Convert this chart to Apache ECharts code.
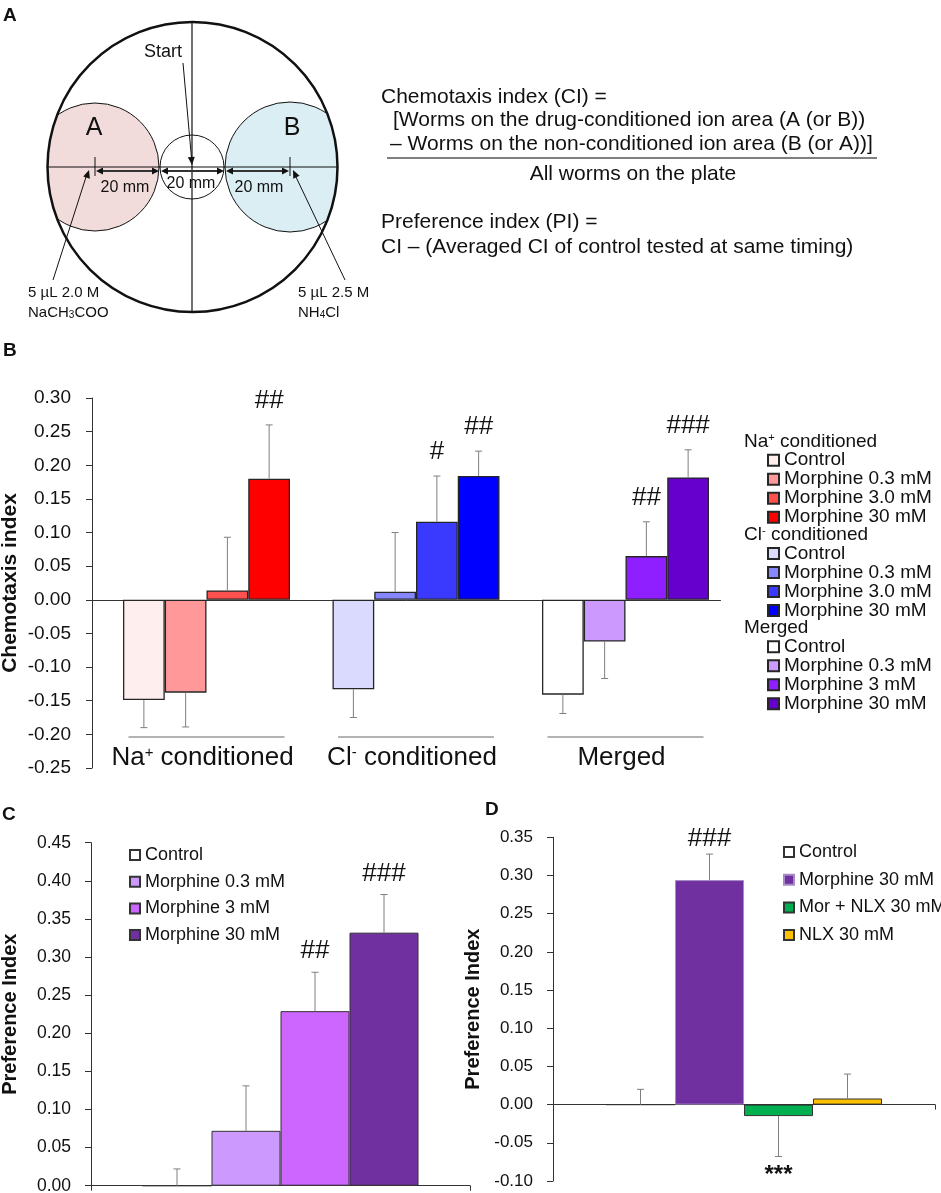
<!DOCTYPE html>
<html lang="en">
<head>
<meta charset="UTF-8">
<title>Chemotaxis / preference index</title>
<script src="https://cdn.jsdelivr.net/npm/echarts@6.0.0/dist/echarts.min.js"></script>
<style>
  html, body { margin: 0; padding: 0; background: #fff; }
  #chart { width: 941px; height: 1193px; }
</style>
</head>
<body>
<div id="chart"></div>
<script>
var FONT = '"Liberation Sans", Arial, Helvetica, sans-serif';

// ---- panel B : chemotaxis index ----
var bGroups = ['Na+ conditioned', 'Cl- conditioned', 'Merged'];
var bGroupRich = ['Na{s|+} conditioned', 'Cl{s|-} conditioned', 'Merged'];
var bHeaders = ['Na{s|+} conditioned', 'Cl{s|-} conditioned', 'Merged'];
var naLabels = ['Control', 'Morphine 0.3 mM', 'Morphine 3.0 mM', 'Morphine 30 mM'];
var clLabels = ['Control', 'Morphine 0.3 mM', 'Morphine 3.0 mM', 'Morphine 30 mM'];
var mgLabels = ['Control', 'Morphine 0.3 mM', 'Morphine 3 mM', 'Morphine 30 mM'];
var naMean = [-0.149, -0.138, 0.014, 0.180];
var naErr = [0.041, 0.051, 0.079, 0.080];
var naSig = ['', '', '', '##'];
var clMean = [-0.133, 0.012, 0.116, 0.184];
var clErr = [0.042, 0.088, 0.068, 0.037];
var clSig = ['', '', '#', '##'];
var mgMean = [-0.141, -0.062, 0.065, 0.182];
var mgErr = [0.028, 0.055, 0.051, 0.041];
var mgSig = ['', '', '##', '###'];
var naColors = ['#ffeeee', '#ff9999', '#ff5050', '#ff0000'];
var clColors = ['#dadaff', '#8686ff', '#3a3aff', '#0000ff'];
var mgColors = ['#ffffff', '#cc99ff', '#8f1fff', '#6600cc'];
var bAxis = [-0.25, 0.30, 0.05];

// ---- panel C : preference index ----
var cLabels = ['Control', 'Morphine 0.3 mM', 'Morphine 3 mM', 'Morphine 30 mM'];
var cMean = [0, 0.072, 0.229, 0.332];
var cErr = [0.022, 0.059, 0.051, 0.050];
var cSig = ['', '', '##', '###'];
var cColors = ['#ffffff', '#cc99ff', '#cc66ff', '#7030a0'];
var cAxis = [0, 0.45, 0.05];

// ---- panel D : preference index with naloxone ----
var dLabels = ['Control', 'Morphine 30 mM', 'Mor + NLX 30 mM', 'NLX 30 mM'];
var dMean = [0, 0.294, -0.015, 0.008];
var dErr = [0.020, 0.034, 0.053, 0.032];
var dSig = ['', '###', '***', ''];
var dColors = ['#ffffff', '#7030a0', '#00b050', '#ffc000'];
var dAxis = [-0.10, 0.35, 0.05];

var B_BAR = 41.75, B_SPACER = 19.5, CD_BAR = 69;

var chart = echarts.init(document.getElementById('chart'), null, { renderer: 'canvas' });

function fmt(v) {
	if (Math.abs(v) < 1e-9) return '0.00';
	return v.toFixed(2);
}

function yAxisOf(grid, range, fontSize, margin, nameGap, nameSize) {
	return {
		gridIndex: grid, type: 'value', min: range[0], max: range[1], interval: range[2],
		axisLine: { show: true, lineStyle: { color: '#333', width: 1 } },
		axisTick: { show: true, length: 6, lineStyle: { color: '#333' } },
		splitLine: { show: false },
		axisLabel: { formatter: fmt, fontSize: fontSize, margin: margin, color: '#111', fontFamily: FONT },
		name: grid === 0 ? 'Chemotaxis index' : 'Preference Index',
		nameLocation: 'middle', nameGap: nameGap, nameMoveOverlap: false,
		nameTextStyle: { fontSize: nameSize, fontWeight: 'bold', color: '#111', fontFamily: FONT }
	};
}

// error bars (and significance marks), positioned in the bar slots of a category
function errorSeries(grid, items, barW, spacerW, slots, upGap, downGap) {
	return {
		type: 'custom', xAxisIndex: grid, yAxisIndex: grid, z: 5, silent: true,
		data: items.map(function (it) { return [it.cat, it.mean, it.err]; }),
		renderItem: function (params, api) {
			var it = items[params.dataIndex];
			var half = (spacerW + slots * barW) / 2;
			var base = api.coord([it.cat, it.mean]);
			var x = base[0] - half + spacerW + (it.slot + 0.5) * barW;
			var dir = it.mean >= 0 ? 1 : -1;
			var end = api.coord([it.cat, it.mean + dir * it.err]);
			var ls = { stroke: '#7f7f7f', lineWidth: 1 };
			var kids = [
				{ type: 'line', shape: { x1: x, y1: base[1], x2: x, y2: end[1] }, style: ls },
				{ type: 'line', shape: { x1: x - 3.5, y1: end[1], x2: x + 3.5, y2: end[1] }, style: ls }
			];
			if (it.sig) {
				var star = it.sig.charAt(0) === '*';
				kids.push({
					type: 'text',
					style: {
						text: it.sig, x: x, y: dir > 0 ? end[1] - upGap : end[1] + downGap,
						align: 'center', verticalAlign: 'middle',
						textAlign: 'center', textVerticalAlign: 'middle',
						fontFamily: FONT, fontSize: star ? 24 : 26, fontWeight: star ? 'bold' : 'normal',
						fill: '#111'
					}
				});
			}
			return { type: 'group', children: kids };
		}
	};
}

var series = [];
var bMeans = [naMean, clMean, mgMean], bErrs = [naErr, clErr, mgErr], bSigs = [naSig, clSig, mgSig];
var bLabels = [naLabels, clLabels, mgLabels], bColors = [naColors, clColors, mgColors];

// empty slot on the left of every group
series.push({
	name: 'spacer', type: 'bar', xAxisIndex: 0, yAxisIndex: 0,
	barWidth: B_SPACER, barGap: '0%', silent: true, data: [null, null, null]
});
var bLegendNames = [[], [], []];
var bErrItems = [];
bGroups.forEach(function (gName, g) {
	for (var d = 0; d < 4; d++) {
		var nm = 'B' + g + '|' + bLabels[g][d];
		bLegendNames[g].push(nm);
		series.push({
			name: nm, type: 'bar', xAxisIndex: 0, yAxisIndex: 0, stack: 'dose' + d,
			barWidth: B_BAR, barGap: '0%',
			itemStyle: { color: bColors[g][d], borderColor: '#262626', borderWidth: 1.3 },
			data: bGroups.map(function (_, k) { return k === g ? bMeans[g][d] : '-'; })
		});
		bErrItems.push({ cat: g, mean: bMeans[g][d], err: bErrs[g][d], slot: d, sig: bSigs[g][d] });
	}
});
series.push(errorSeries(0, bErrItems, B_BAR, B_SPACER, 4, 24, 19));

// group underline + label under each group
series.push({
	type: 'custom', xAxisIndex: 0, yAxisIndex: 0, silent: true, z: 4,
	data: bGroups.map(function (_, k) { return [k, bAxis[0]]; }),
	renderItem: function (params, api) {
		var p = api.coord([api.value(0), api.value(1)]);
		var cx = p[0] + B_SPACER / 2;
		return {
			type: 'group', children: [
				{ type: 'line', shape: { x1: cx - 78, y1: p[1] - 31, x2: cx + 78, y2: p[1] - 31 },
					style: { stroke: '#9a9a9a', lineWidth: 1.5 } },
				{ type: 'text', style: {
					text: bGroupRich[params.dataIndex], x: cx - 4, y: p[1] - 10,
					align: 'center', verticalAlign: 'middle', textAlign: 'center', textVerticalAlign: 'middle',
					fontFamily: FONT, fontSize: 26, fill: '#111',
					rich: { s: { fontFamily: FONT, fontSize: 15, verticalAlign: 'top', fill: '#111' } }
				} }
			]
		};
	}
});

// panel C
var cLegendNames = [], cErrItems = [];
cLabels.forEach(function (lab, d) {
	var nm = 'C|' + lab;
	cLegendNames.push(nm);
	series.push({
		name: nm, type: 'bar', xAxisIndex: 1, yAxisIndex: 1, barWidth: CD_BAR, barGap: '0%',
		itemStyle: { color: cColors[d], borderColor: '#333', borderWidth: 1 },
		data: [cMean[d]]
	});
	cErrItems.push({ cat: 0, mean: cMean[d], err: cErr[d], slot: d, sig: cSig[d] });
});
series.push(errorSeries(1, cErrItems, CD_BAR, 0, 4, 21, 19));

// panel D
var dLegendNames = [], dErrItems = [];
dLabels.forEach(function (lab, d) {
	var nm = 'D|' + lab;
	dLegendNames.push(nm);
	series.push({
		name: nm, type: 'bar', xAxisIndex: 2, yAxisIndex: 2, barWidth: CD_BAR, barGap: '0%',
		itemStyle: { color: dColors[d], borderColor: d === 1 ? '#a58cc4' : '#333', borderWidth: 1 },
		data: [dMean[d]]
	});
	dErrItems.push({ cat: 0, mean: dMean[d], err: dErr[d], slot: d, sig: dSig[d] });
});
series.push(errorSeries(2, dErrItems, CD_BAR, 0, 4, 15, 19));

function legendOf(names, left, top, fontSize, lineH, gap, icon) {
	return {
		orient: 'vertical', left: left, top: top, padding: 0, itemGap: gap,
		itemWidth: icon, itemHeight: icon, icon: 'rect', selectedMode: false, data: names,
		formatter: function (n) { return n.split('|')[1]; },
		textStyle: { fontFamily: FONT, fontSize: fontSize, lineHeight: lineH, color: '#111' }
	};
}

// ---- panel A drawing + captions (graphic) ----
function arrowHead(tx, ty, ang, len, hw) {
	var bx = tx - Math.cos(ang) * len, by = ty - Math.sin(ang) * len;
	var px = -Math.sin(ang) * hw, py = Math.cos(ang) * hw;
	return { type: 'polygon', shape: { points: [[tx, ty], [bx + px, by + py], [bx - px, by - py]] }, style: { fill: '#111' } };
}
function seg(x1, y1, x2, y2, w, c) {
	return { type: 'line', shape: { x1: x1, y1: y1, x2: x2, y2: y2 }, style: { stroke: c || '#111', lineWidth: w || 1 } };
}
function txt(s, x, y, size, opts) {
	opts = opts || {};
	return {
		type: 'text', x: x, y: y,
		style: {
			text: s, fontFamily: FONT, fontSize: size, fontWeight: opts.bold ? 'bold' : 'normal',
			fill: '#111', align: opts.align || 'left', verticalAlign: opts.va || 'middle',
			textAlign: opts.align || 'left', textVerticalAlign: opts.va || 'middle', rich: opts.rich
		}
	};
}

var cx0 = 192.5, cy0 = 167;
var gfx = [
	{ type: 'circle', shape: { cx: 95, cy: cy0, r: 64 }, style: { fill: '#f2dcdb', stroke: '#111', lineWidth: 1 } },
	{ type: 'circle', shape: { cx: 290, cy: cy0, r: 65 }, style: { fill: '#dbeef4', stroke: '#111', lineWidth: 1 } },
	{ type: 'circle', shape: { cx: cx0, cy: cy0, r: 160 }, style: { fill: 'none', stroke: '#fff', lineWidth: 30 } },
	{ type: 'circle', shape: { cx: cx0, cy: cy0, r: 145 }, style: { fill: 'none', stroke: '#111', lineWidth: 2.5 } },
	seg(192, 22, 192, 312, 1.2),
	seg(48, cy0, 337, cy0, 1.2),
	{ type: 'circle', shape: { cx: 192, cy: cy0, r: 32 }, style: { fill: 'none', stroke: '#111', lineWidth: 1 } },
	seg(95, 157, 95, 176, 1),
	seg(290, 157, 290, 176, 1),
	seg(99, 171, 155, 171, 2, '#333'),
	seg(164, 171, 220, 171, 2, '#333'),
	seg(229, 171, 285, 171, 2, '#333'),
	arrowHead(96, 171, Math.PI, 7, 3.5), arrowHead(159, 171, 0, 7, 3.5),
	arrowHead(161, 171, Math.PI, 7, 3.5), arrowHead(224, 171, 0, 7, 3.5),
	arrowHead(226, 171, Math.PI, 7, 3.5), arrowHead(289, 171, 0, 7, 3.5),
	txt('A', 94, 128, 25, { align: 'center' }),
	txt('B', 292, 128, 25, { align: 'center' }),
	txt('Start', 163, 52, 18, { align: 'center' }),
	seg(183, 63, 191.5, 158, 1),
	arrowHead(192, 165, Math.atan2(102, 9), 8, 3.5),
	txt('20 mm', 125, 188, 16, { align: 'center' }),
	txt('20 mm', 191, 184, 16, { align: 'center' }),
	txt('20 mm', 259, 188, 16, { align: 'center' }),
	seg(53, 280, 86, 177, 1),
	arrowHead(89, 170, Math.atan2(-103, 33), 8, 3.5),
	seg(345, 280, 296, 177, 1),
	arrowHead(293, 170, Math.atan2(-103, -49), 8, 3.5),
	txt('5 µL 2.0 M', 28, 293, 15),
	txt('NaCH{b|3}COO', 28, 313, 15, { rich: { b: { fontFamily: FONT, fontSize: 10, verticalAlign: 'bottom', fill: '#111' } } }),
	txt('5 µL 2.5 M', 298, 293, 15),
	txt('NH{b|4}Cl', 298, 313, 15, { rich: { b: { fontFamily: FONT, fontSize: 10, verticalAlign: 'bottom', fill: '#111' } } }),

	txt('Chemotaxis index (CI) =', 381, 97, 21),
	txt('[Worms on the drug-conditioned ion area (A (or B))', 393, 120, 21),
	txt('– Worms on the non-conditioned ion area (B (or A))]', 390, 144, 21),
	seg(387, 158, 877, 158, 1.5, '#555'),
	txt('All worms on the plate', 633, 174, 21, { align: 'center' }),
	txt('Preference index (PI) =', 381, 222, 21),
	txt('CI – (Averaged CI of control tested at same timing)', 381, 247, 21),

	txt('A', 3, 16, 19, { bold: true }),
	txt('B', 3, 351, 19, { bold: true }),
	txt('C', 2, 815, 19, { bold: true }),
	txt('D', 485, 810, 19, { bold: true })
];
var supRich = { s: { fontFamily: FONT, fontSize: 11, verticalAlign: 'top', fill: '#111' } };
var bLegendTops = [450.7, 543.9, 637.2];
bHeaders.forEach(function (h, g) {
	gfx.push(txt(h, 744, bLegendTops[g] - 9, 19, { rich: supRich }));
});

chart.setOption({
	animation: false,
	textStyle: { fontFamily: FONT },
	grid: [
		{ left: 92, top: 398, width: 628.5, height: 370, containLabel: false, outerBoundsMode: 'none' },
		{ left: 91, top: 842.7, width: 379, height: 343, containLabel: false, outerBoundsMode: 'none' },
		{ left: 553, top: 837.3, width: 382, height: 343.7, containLabel: false, outerBoundsMode: 'none' }
	],
	xAxis: [
		{ gridIndex: 0, type: 'category', data: bGroups,
			axisLine: { onZero: true, lineStyle: { color: '#333' } }, axisTick: { show: false }, axisLabel: { show: false } },
		{ gridIndex: 1, type: 'category', data: [''],
			axisLine: { lineStyle: { color: '#333' } }, axisTick: { show: true, length: 5, lineStyle: { color: '#333' } }, axisLabel: { show: false } },
		{ gridIndex: 2, type: 'category', data: [''],
			axisLine: { onZero: true, lineStyle: { color: '#333' } }, axisTick: { show: true, length: 5, lineStyle: { color: '#333' } }, axisLabel: { show: false } }
	],
	yAxis: [
		yAxisOf(0, bAxis, 19, 21, 71, 21),
		yAxisOf(1, cAxis, 17.5, 20, 71, 20),
		yAxisOf(2, dAxis, 17, 20, 70, 20)
	],
	legend: [
		legendOf(bLegendNames[0], 767, bLegendTops[0], 19, 18.65, 0, 11),
		legendOf(bLegendNames[1], 767, bLegendTops[1], 19, 18.65, 0, 11),
		legendOf(bLegendNames[2], 767, bLegendTops[2], 19, 18.65, 0, 11),
		legendOf(cLegendNames, 129, 846, 18, 18, 8.7, 10),
		legendOf(dLegendNames, 783, 843, 18, 18, 9.7, 10)
	],
	graphic: { elements: gfx },
	series: series
});
</script>
</body>
</html>
